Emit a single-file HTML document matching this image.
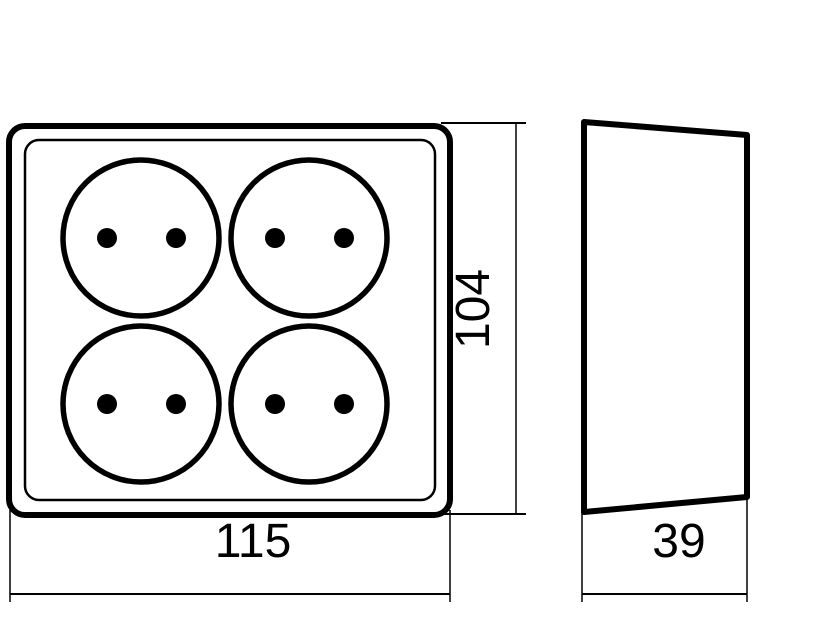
<!DOCTYPE html>
<html><head><style>html,body{margin:0;padding:0;background:#fff;}svg{display:block;}</style></head>
<body>
<svg width="827" height="638" viewBox="0 0 827 638" xmlns="http://www.w3.org/2000/svg">
<rect width="827" height="638" fill="#fff"/>
<g fill="none" stroke="#000">
<rect x="9" y="126" width="441" height="389" rx="16" stroke-width="6"/>
<rect x="25" y="140" width="410" height="360" rx="14" stroke-width="2.5"/>
<circle cx="141" cy="238" r="78" stroke-width="5.5"/>
<circle cx="309" cy="238" r="78" stroke-width="5.5"/>
<circle cx="141" cy="404" r="78" stroke-width="5.5"/>
<circle cx="309" cy="404" r="78" stroke-width="5.5"/>
<line x1="441" y1="123" x2="526" y2="123" stroke-width="2"/>
<line x1="516" y1="123" x2="516" y2="515" stroke-width="1.5"/>
<line x1="441" y1="514" x2="526" y2="514" stroke-width="2"/>
<line x1="10" y1="510" x2="10" y2="602" stroke-width="1.5"/>
<line x1="450" y1="510" x2="450" y2="602" stroke-width="1.5"/>
<line x1="10" y1="594" x2="450" y2="594" stroke-width="2"/>
<polygon points="584,122 747,135 747,497 584,512" stroke-width="6" stroke-linejoin="round"/>
<line x1="582" y1="512" x2="582" y2="602" stroke-width="1.5"/>
<line x1="747" y1="497" x2="747" y2="602" stroke-width="1.5"/>
<line x1="582" y1="594" x2="747" y2="594" stroke-width="2"/>
</g>
<g fill="#000">
<circle cx="107" cy="238" r="10"/><circle cx="176" cy="238" r="10"/>
<circle cx="275" cy="238" r="10"/><circle cx="344" cy="238" r="10"/>
<circle cx="107" cy="404" r="10"/><circle cx="176" cy="404" r="10"/>
<circle cx="275" cy="404" r="10"/><circle cx="344" cy="404" r="10"/>
</g>
<g font-family="Liberation Sans, sans-serif" font-size="48" fill="#000" text-anchor="middle">
<text x="253" y="557">115</text>
<text x="679" y="557">39</text>
<text transform="translate(489,309) rotate(-90)" x="0" y="0">104</text>
</g>
</svg>
</body></html>
